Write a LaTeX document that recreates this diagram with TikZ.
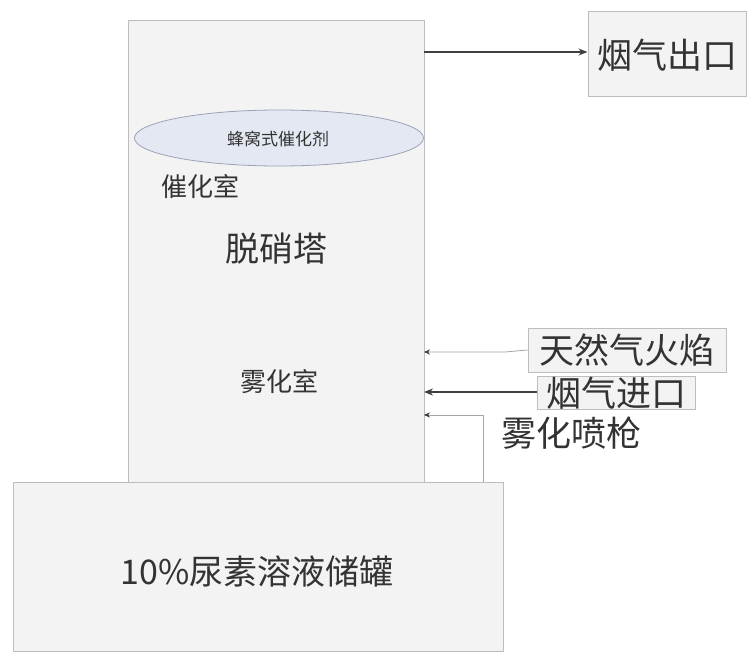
\documentclass[tikz,border=0pt]{standalone}
\usepackage{fontspec}
\setmainfont{Noto Sans CJK SC}
\usetikzlibrary{arrows.meta,shapes.geometric}
\definecolor{boxfill}{HTML}{F3F3F3}
\definecolor{boxline}{HTML}{BDBDBD}
\definecolor{ellfill}{HTML}{E3E8F2}
\definecolor{ellline}{HTML}{9AA2B4}
\definecolor{txt}{HTML}{333333}
\begin{document}
\begin{tikzpicture}[x=1pt,y=-1pt,
  box/.style={draw=boxline,fill=boxfill,line width=1pt},
  lbl/.style={text=txt,inner sep=0pt},
  thinarrow/.style={draw=gray!70,line width=0.8pt,-{Stealth[length=6pt,width=5pt,color=black!80]}},
  thickarrow/.style={draw=black!75,line width=1.6pt,-{Stealth[length=9pt,width=7pt]}}]
\useasboundingbox[fill=white] (0,0) rectangle (747,653);
% tower
\draw[box] (128,20) rectangle (424,482);
\coordinate (towerR1) at (424,52);
\coordinate (towerR2) at (424,352);
\coordinate (towerR3) at (424,392);
\coordinate (towerR4) at (424,415);
% tank
\draw[box] (13,482) rectangle (503,651);
\node[lbl,font=\fontsize{34}{36}\selectfont] (tank) at (257,571) {10\%尿素溶液储罐};
% catalyst ellipse
\node[ellipse,draw=ellline,fill=ellfill,line width=0.8pt,minimum width=289pt,minimum height=56pt,inner sep=0pt] (cat) at (279,138) {};
\node[lbl,font=\fontsize{17}{19}\selectfont] (catt) at (278,139) {蜂窝式催化剂};
\node[lbl,font=\fontsize{26}{28}\selectfont] (cuihua) at (200,187) {催化室};
\node[lbl,font=\fontsize{34}{36}\selectfont] (tower) at (276,249) {脱硝塔};
\node[lbl,font=\fontsize{26}{28}\selectfont] (wuhua) at (279,382) {雾化室};
% outlet
\node[box,minimum width=158pt,minimum height=85pt,inner sep=0pt] (out) at (667,54) {};
\node[lbl,font=\fontsize{35}{37}\selectfont] (outt) at (667,55) {烟气出口};
\draw[thickarrow,line width=1.3pt] (towerR1) -- (out.west |- towerR1);
% natural gas
\node[draw=boxline,fill=boxfill,line width=1pt,minimum width=198pt,minimum height=44pt,inner sep=0pt,text=txt,font=\fontsize{35}{37}\selectfont] (gas) at (627,350) {天然气火焰};
\draw[thinarrow] (gas.west) -- (505,352) -- (towerR2);
% flue inlet
\node[draw=boxline,fill=boxfill,line width=1pt,minimum width=158pt,minimum height=33pt,inner sep=0pt,text=txt,font=\fontsize{35}{37}\selectfont] (inlet) at (616,393) {烟气进口};
\draw[thickarrow] (inlet.west |- towerR3) -- (towerR3);
% spray gun
\node[lbl,font=\fontsize{35}{37}\selectfont] (gun) at (571,433) {雾化喷枪};
\coordinate (tankTop) at (483,482);
\draw[thinarrow] (tankTop) -- (483,415) -- (towerR4);
\end{tikzpicture}
\end{document}
